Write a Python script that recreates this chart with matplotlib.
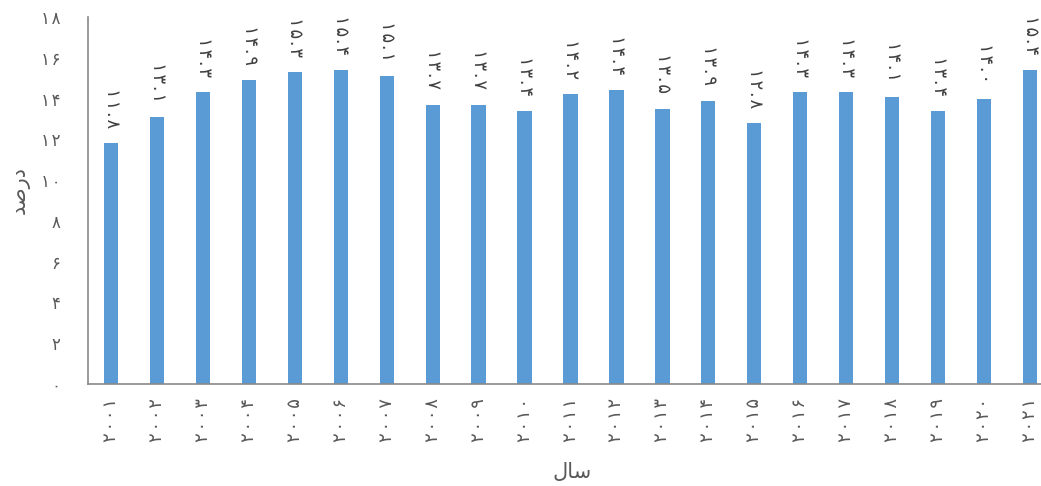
import matplotlib
matplotlib.use("Agg")
import matplotlib.pyplot as plt

plt.rcParams['font.family'] = ['DejaVu Sans']

FA = str.maketrans("0123456789", "۰۱۲۳۴۵۶۷۸۹")

years = [2001, 2002, 2003, 2004, 2005, 2006, 2007, 2008, 2009, 2010, 2011,
         2012, 2013, 2014, 2015, 2016, 2017, 2018, 2019, 2020, 2021]
values = [11.8, 13.1, 14.3, 14.9, 15.3, 15.4, 15.1, 13.7, 13.7, 13.4, 14.2,
          14.4, 13.5, 13.9, 12.8, 14.3, 14.3, 14.1, 13.4, 14.0, 15.4]
yticks = [0, 2, 4, 6, 8, 10, 12, 14, 16, 18]

# Persian titles written in contextual presentation forms (visual order)
xlabel = "\uFEDD\uFE8E\uFEB3"          # سال
ylabel = "\uFEAA\uFEBB\uFEAD\uFEA9"    # درصد


def fa(s):
    # Persian digits with a hair space between glyphs for looser tracking
    return "\u200A".join(s.translate(FA))


fig = plt.figure(figsize=(10.41, 4.86), dpi=100)
ax = fig.add_axes([88 / 1041, (486 - 384) / 486, (1053 - 88) / 1041, (384 - 17) / 486])

x = list(range(len(years)))
ax.bar(x, values, width=0.31, color="#5B9BD5", zorder=2)

for xi, v in zip(x, values):
    ax.annotate(fa(f"{v:.1f}"), (xi, v), xytext=(0.5, 11),
                textcoords="offset points", rotation=-90, ha="center", va="bottom",
                fontsize=13, color="#404040")

ax.set_xlim(-0.5, len(years) - 0.5)
ax.set_ylim(0, 18)
ax.set_yticks(yticks)
ax.set_yticklabels([fa(str(t)) for t in yticks], fontsize=12, color="#595959")
ax.set_xticks(x)
ax.set_xticklabels([fa(str(y)) for y in years], rotation=90,
                   fontsize=13, color="#595959")
ax.tick_params(axis="y", length=0, pad=20)
ax.tick_params(axis="x", length=0, pad=10)

for s in ("top", "right"):
    ax.spines[s].set_visible(False)
for s in ("left", "bottom"):
    ax.spines[s].set_color("#898989")
    ax.spines[s].set_linewidth(1.2)

fig.text(572 / 1041, 1 - 472 / 486, xlabel, ha="center", va="center",
         fontsize=15, color="#595959")
fig.text(20 / 1041, 1 - 190 / 486, ylabel, ha="center", va="center",
         rotation=90, fontsize=15, color="#595959")

fig.savefig("out.png", dpi=100)
